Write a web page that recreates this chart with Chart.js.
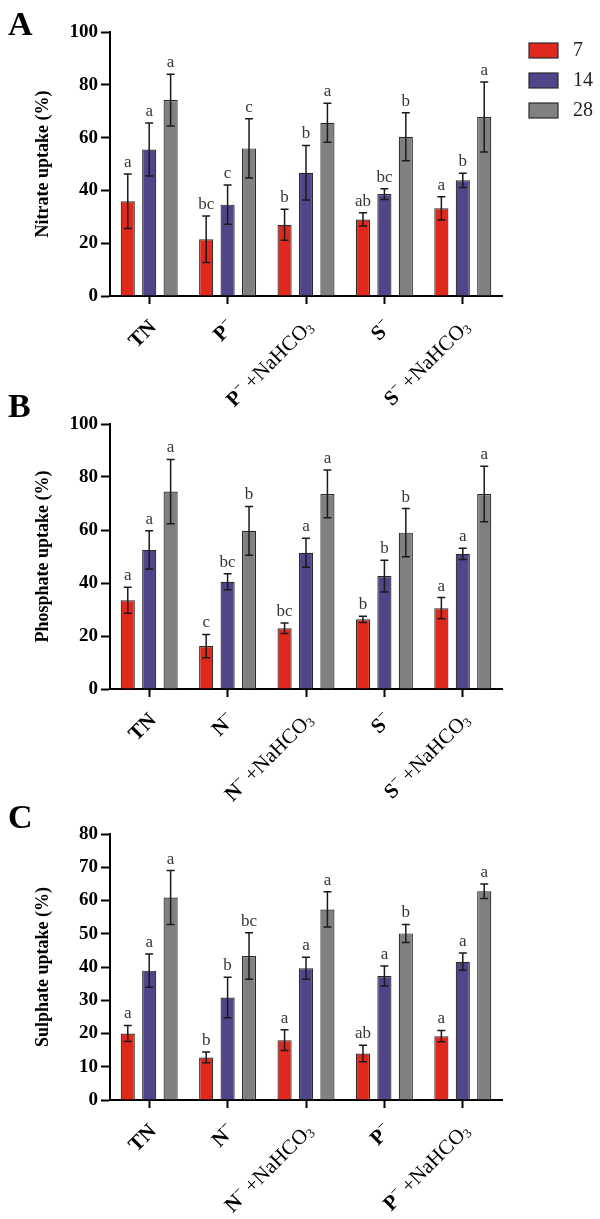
<!DOCTYPE html>
<html>
<head>
<meta charset="utf-8">
<script src="https://cdn.jsdelivr.net/npm/chart.js@4.4.0/dist/chart.umd.min.js"></script>
<style>
  html, body { margin: 0; padding: 0; background: #fff; }
  #wrap { position: relative; width: 600px; height: 1219px; overflow: hidden; }
  canvas { position: absolute; left: 0; }
</style>
</head>
<body>
<div id="wrap">
  <canvas id="chart-a" width="600" height="430" style="top:0px"></canvas>
  <canvas id="chart-b" width="600" height="430" style="top:392px"></canvas>
  <canvas id="chart-c" width="600" height="417" style="top:802px"></canvas>
</div>
<script>
// 数据
const days = ['7', '14', '28'];
const barColors = ['#e0291c', '#524488', '#808080'];

// A: nitrate
const catsA = ['TN', 'P⁻', 'P⁻ +NaHCO₃', 'S⁻', 'S⁻ +NaHCO₃'];
const nitrate7 = [35.9, 21.5, 27.0, 29.0, 33.2];
const nitrate14 = [55.5, 34.6, 46.7, 38.6, 43.8];
const nitrate28 = [74.2, 55.9, 65.6, 60.3, 67.8];
const nitrateSd7 = [10.3, 8.8, 5.9, 2.5, 4.4];
const nitrateSd14 = [10.0, 7.4, 10.3, 2.0, 2.7];
const nitrateSd28 = [9.8, 11.2, 7.4, 9.1, 13.3];
const nitrateSig7 = ['a', 'bc', 'b', 'ab', 'a'];
const nitrateSig14 = ['a', 'c', 'b', 'bc', 'b'];
const nitrateSig28 = ['a', 'c', 'a', 'b', 'a'];

// B: phosphate
const catsB = ['TN', 'N⁻', 'N⁻ +NaHCO₃', 'S⁻', 'S⁻ +NaHCO₃'];
const phos7 = [33.5, 16.2, 22.9, 26.3, 30.5];
const phos14 = [52.5, 40.5, 51.4, 42.6, 51.0];
const phos28 = [74.5, 59.7, 73.6, 59.0, 73.6];
const phosSd7 = [4.9, 4.4, 2.0, 1.2, 4.0];
const phosSd14 = [7.2, 3.0, 5.5, 6.0, 2.1];
const phosSd28 = [12.1, 9.2, 9.0, 9.1, 10.5];
const phosSig7 = ['a', 'c', 'bc', 'b', 'a'];
const phosSig14 = ['a', 'bc', 'a', 'b', 'a'];
const phosSig28 = ['a', 'b', 'a', 'b', 'a'];

// C: sulphate
const catsC = ['TN', 'N⁻', 'N⁻ +NaHCO₃', 'P⁻', 'P⁻ +NaHCO₃'];
const sul7 = [20.0, 12.8, 18.0, 14.0, 19.2];
const sul14 = [38.9, 30.8, 39.6, 37.3, 41.6];
const sul28 = [60.9, 43.3, 57.3, 50.1, 62.8];
const sulSd7 = [2.4, 1.6, 3.1, 2.5, 1.7];
const sulSd14 = [5.0, 6.1, 3.3, 3.0, 2.6];
const sulSd28 = [8.1, 7.0, 5.3, 2.7, 2.2];
const sulSig7 = ['a', 'b', 'a', 'ab', 'a'];
const sulSig14 = ['a', 'b', 'a', 'a', 'a'];
const sulSig28 = ['a', 'bc', 'a', 'b', 'a'];

const FONT = '"Liberation Serif", "Times New Roman", serif';

// 误差线 + 显著性字母
const errorBarPlugin = {
  id: 'errorBars',
  afterDatasetsDraw(chart) {
    const ctx = chart.ctx;
    const y = chart.scales.y;
    chart.data.datasets.forEach((ds, i) => {
      const meta = chart.getDatasetMeta(i);
      meta.data.forEach((bar, j) => {
        const v = ds.data[j], sd = ds.sd[j];
        const yt = y.getPixelForValue(v + sd);
        const yb = y.getPixelForValue(v - sd);
        ctx.save();
        ctx.strokeStyle = '#1a1a1a';
        ctx.lineWidth = 1.5;
        ctx.beginPath();
        ctx.moveTo(bar.x, yt); ctx.lineTo(bar.x, yb);
        ctx.moveTo(bar.x - 4, yt); ctx.lineTo(bar.x + 4, yt);
        ctx.moveTo(bar.x - 4, yb); ctx.lineTo(bar.x + 4, yb);
        ctx.stroke();
        ctx.fillStyle = '#3a3530';
        ctx.font = `17px ${FONT}`;
        ctx.textAlign = 'center';
        ctx.textBaseline = 'bottom';
        ctx.fillText(ds.sig[j], bar.x, yt - 3);
        ctx.restore();
      });
    });
  }
};

// 旋转的分类标签 (上标/下标)
function labelRuns(label) {
  const sp = label.indexOf(' ');
  const runs = [];
  [...label].forEach((ch, k) => {
    const bold = sp < 0 || k < sp;
    let t = ch, pos = 0;
    if (ch === '⁻') { t = '−'; pos = 1; }
    if (ch === '₃') { t = '3'; pos = -1; }
    const last = runs[runs.length - 1];
    if (last && last.bold === bold && last.pos === pos) last.t += t;
    else runs.push({ t, bold, pos });
  });
  return runs;
}

const xLabelPlugin = {
  id: 'xLabels',
  afterDraw(chart) {
    const ctx = chart.ctx;
    const xs = chart.scales.x;
    const size = 21;
    chart.data.labels.forEach((label, i) => {
      const runs = labelRuns(label);
      const fontOf = r => `${r.bold ? 'bold ' : ''}${r.pos ? Math.round(size * 0.62) : size}px ${FONT}`;
      let total = 0;
      runs.forEach(r => { ctx.font = fontOf(r); r.w = ctx.measureText(r.t).width; total += r.w; });
      ctx.save();
      ctx.translate(xs.getPixelForTick(i) + 8, xs.top + 32);
      ctx.rotate(-Math.PI / 4);
      ctx.fillStyle = '#000';
      ctx.textAlign = 'left';
      ctx.textBaseline = 'alphabetic';
      let cx = -total;
      runs.forEach(r => {
        ctx.font = fontOf(r);
        const dy = r.pos > 0 ? -size * 0.42 : (r.pos < 0 ? size * 0.12 : 0);
        ctx.fillText(r.t, cx, dy);
        cx += r.w;
      });
      ctx.restore();
    });
  }
};

// 面板字母 + 图例
const panelPlugin = {
  id: 'panel',
  afterDraw(chart, args, opts) {
    const ctx = chart.ctx;
    ctx.save();
    ctx.fillStyle = '#000';
    ctx.font = `bold 34px ${FONT}`;
    ctx.textAlign = 'left';
    ctx.textBaseline = 'alphabetic';
    ctx.fillText(opts.letter, 8, opts.letterY);
    if (opts.legend) {
      chart.data.datasets.forEach((ds, i) => {
        const top = 43 + i * 30;
        ctx.fillStyle = ds.backgroundColor;
        ctx.fillRect(529, top, 29, 15);
        ctx.strokeStyle = '#2a2a2a';
        ctx.lineWidth = 1.2;
        ctx.strokeRect(529, top, 29, 15);
        ctx.fillStyle = '#222';
        ctx.font = `20px ${FONT}`;
        ctx.textBaseline = 'middle';
        ctx.fillText(ds.label, 573, top + 8);
      });
    }
    ctx.restore();
  }
};

function makePanel(id, cats, series, sds, sigs, yTitle, yMax, yStep, xHeight, letter, letterY, legend) {
  const ctx = document.getElementById(id).getContext('2d');
  return new Chart(ctx, {
    type: 'bar',
    data: {
      labels: cats,
      datasets: series.map((s, i) => ({
        label: days[i],
        data: s,
        sd: sds[i],
        sig: sigs[i],
        backgroundColor: barColors[i],
        borderColor: '#2a2a2a',
        borderWidth: 1.2,
        categoryPercentage: 0.82,
        barPercentage: 0.66
      }))
    },
    options: {
      responsive: false,
      animation: false,
      layout: { padding: { top: 32, right: 98, left: 0, bottom: 0 } },
      plugins: {
        legend: { display: false },
        tooltip: { enabled: false },
        panel: { letter, letterY, legend }
      },
      scales: {
        x: {
          ticks: { display: false },
          grid: { offset: false, drawOnChartArea: false, drawTicks: true, tickLength: 8, tickWidth: 2, tickColor: '#000' },
          border: { display: true, color: '#000', width: 2 },
          afterFit: s => { s.height = xHeight; }
        },
        y: {
          min: 0, max: yMax,
          ticks: { stepSize: yStep, color: '#000', padding: 3, font: { family: FONT, size: 19, weight: 'bold' } },
          grid: { drawOnChartArea: false, drawTicks: true, tickLength: 9, tickWidth: 2, tickColor: '#000' },
          border: { display: true, color: '#000', width: 2 },
          title: { display: true, text: yTitle, color: '#000', padding: { top: 33, bottom: 0 }, font: { family: FONT, size: 18, weight: 'bold' } },
          afterFit: s => { s.width = 110; }
        }
      }
    },
    plugins: [errorBarPlugin, xLabelPlugin, panelPlugin]
  });
}

makePanel('chart-a', catsA,
  [nitrate7, nitrate14, nitrate28], [nitrateSd7, nitrateSd14, nitrateSd28], [nitrateSig7, nitrateSig14, nitrateSig28],
  'Nitrate uptake (%)', 100, 20, 430 - 296, 'A', 35, true);
makePanel('chart-b', catsB,
  [phos7, phos14, phos28], [phosSd7, phosSd14, phosSd28], [phosSig7, phosSig14, phosSig28],
  'Phosphate uptake (%)', 100, 20, 430 - 297, 'B', 25, false);
makePanel('chart-c', catsC,
  [sul7, sul14, sul28], [sulSd7, sulSd14, sulSd28], [sulSig7, sulSig14, sulSig28],
  'Sulphate uptake (%)', 80, 10, 417 - 298, 'C', 26, false);
</script>
</body>
</html>
